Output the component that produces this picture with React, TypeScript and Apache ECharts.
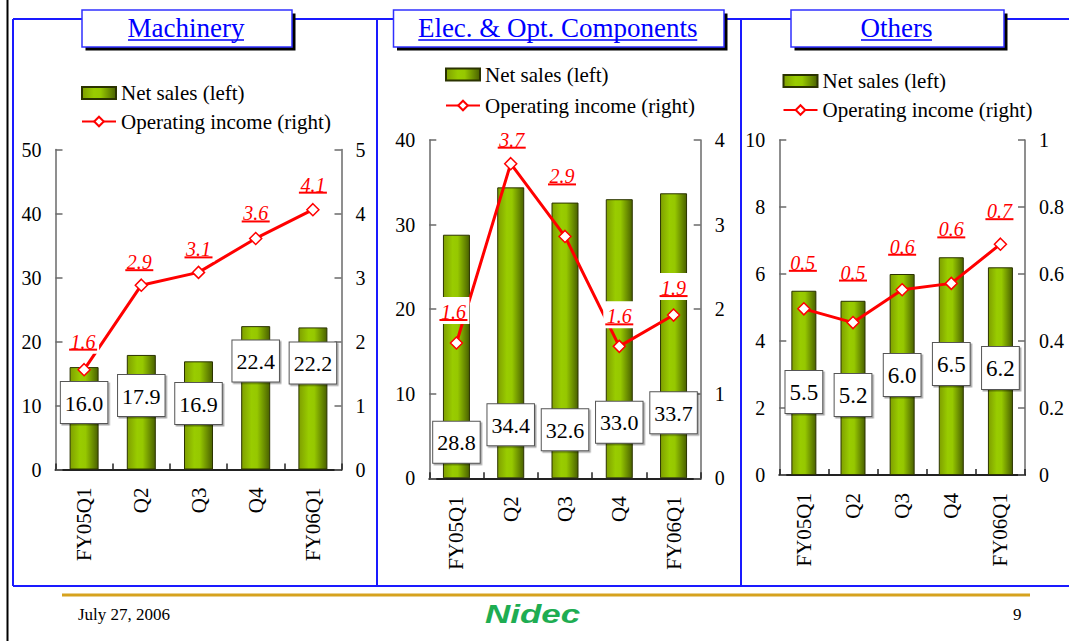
import React, { useEffect, useRef } from 'react';
import * as echarts from 'echarts';

// ---- data ----
const quarters = ['FY05Q1', 'Q2', 'Q3', 'Q4', 'FY06Q1'];
const machinerySales = [16.0, 17.9, 16.9, 22.4, 22.2];
const machineryIncome = [1.56, 2.88, 3.08, 3.61, 4.06];
const elecSales = [28.8, 34.4, 32.6, 33.0, 33.7];
const elecIncome = [1.6, 3.72, 2.86, 1.56, 1.93];
const othersSales = [5.5, 5.2, 6.0, 6.5, 6.2];
const othersIncome = [0.496, 0.455, 0.553, 0.572, 0.689];
const salesName = 'Net sales (left)';
const incomeName = 'Operating income (right)';
const footerDate = 'July 27, 2006';
const pageNumber = '9';

const SERIF = 'Liberation Serif';
const BLUE = '#1a1aff';

// ---- layout (positions / styles only) ----
const panels = [
  {
    title: 'Machinery', titleBox: [82, 10, 210, 37], titleHalf: 58,
    sales: machinerySales, income: machineryIncome,
    salesMax: 50, salesStep: 10, incomeMax: 5, incomeStep: 1,
    grid: { left: 55.5, top: 149.5, width: 286, height: 320 }, barWidth: 29,
    legend: { left: 81, top: 82.5, gap: 7.5 },
    labelLift: [28, 23, 23, 25, 25], labelDx: [-1, -2, 0, 0, 0],
    boxLift: [46.5, 53.5, 45.5, 88, 86], boxFont: 22,
  },
  {
    title: 'Elec. & Opt. Components', titleBox: [393.5, 10, 330.5, 37], titleHalf: 139.5,
    sales: elecSales, income: elecIncome,
    salesMax: 40, salesStep: 10, incomeMax: 4, incomeStep: 1,
    grid: { left: 429.3, top: 140, width: 271.4, height: 338.3 }, barWidth: 27,
    legend: { left: 445, top: 64, gap: 10 },
    labelLift: [31, 24, 60, 30, 27], labelDx: [-3, 1, -3, 0, 0],
    boxLift: [15.5, 33, 28, 35.5, 45], boxFont: 22,
  },
  {
    title: 'Others', titleBox: [791, 10, 213, 37], titleHalf: 35.5,
    sales: othersSales, income: othersIncome,
    salesMax: 10, salesStep: 2, incomeMax: 1, incomeStep: 0.2,
    grid: { left: 779.3, top: 140, width: 245.7, height: 335 }, barWidth: 25,
    legend: { left: 782.5, top: 70.5, gap: 8 },
    labelLift: [46, 50, 43, 54, 33], labelDx: [-1, 0, 0, 0, -1],
    boxLift: [62, 59, 79, 90, 86], boxFont: 23,
  },
];

const barGradient = () =>
  new echarts.graphic.LinearGradient(0, 0, 1, 0, [
    { offset: 0, color: '#7f9f00' },
    { offset: 0.35, color: '#99cc00' },
    { offset: 0.55, color: '#96c800' },
    { offset: 1, color: '#4a6100' },
  ]);

function buildOption() {
  const grids: any[] = [];
  const xAxes: any[] = [];
  const yAxes: any[] = [];
  const series: any[] = [];
  const legends: any[] = [];
  const graphics: any[] = [];

  // page frame
  graphics.push({ type: 'line', z: 0, shape: { x1: 7.5, y1: 0, x2: 7.5, y2: 641 }, style: { stroke: '#000', lineWidth: 2 } });
  graphics.push({ type: 'line', z: 0, shape: { x1: 13, y1: 19, x2: 1069, y2: 19 }, style: { stroke: BLUE, lineWidth: 2 } });
  graphics.push({ type: 'line', z: 0, shape: { x1: 13, y1: 586, x2: 1069, y2: 586 }, style: { stroke: BLUE, lineWidth: 2 } });
  [13, 377, 741].forEach((x) =>
    graphics.push({ type: 'line', z: 0, shape: { x1: x, y1: 19, x2: x, y2: 586 }, style: { stroke: BLUE, lineWidth: 2 } })
  );

  panels.forEach((p, i) => {
    grids.push({ ...p.grid, containLabel: false });
    xAxes.push({
      type: 'category', gridIndex: i, data: quarters,
      axisLine: { show: true, lineStyle: { color: '#222', width: 2 } },
      axisTick: { show: true, inside: true, length: 6, lineStyle: { color: '#222', width: 1.5 } },
      axisLabel: { rotate: 90, margin: 18, fontSize: 21, color: '#000', fontFamily: SERIF },
    });
    const yCommon = {
      type: 'value', gridIndex: i, min: 0,
      axisLine: { show: true, lineStyle: { color: '#6a6a6a', width: 1.5 } },
      axisTick: { show: true, inside: true, length: 7, lineStyle: { color: '#6a6a6a', width: 1.5 } },
      splitLine: { show: false },
    };
    yAxes.push({
      ...yCommon, position: 'left', max: p.salesMax, interval: p.salesStep,
      axisLabel: { margin: 14, fontSize: 20, color: '#000', fontFamily: SERIF },
    });
    yAxes.push({
      ...yCommon, position: 'right', max: p.incomeMax, interval: p.incomeStep,
      axisLabel: { margin: 14, fontSize: 20, color: '#000', fontFamily: SERIF },
    });

    series.push({
      type: 'bar', name: salesName, xAxisIndex: i, yAxisIndex: 2 * i, z: 2,
      barWidth: p.barWidth,
      itemStyle: { color: barGradient(), borderColor: '#2b3300', borderWidth: 1 },
      label: {
        show: true, position: 'insideBottom',
        formatter: (d: any) => Number(d.value).toFixed(1),
        fontSize: p.boxFont, fontFamily: SERIF, color: '#000',
        backgroundColor: '#fff', borderColor: '#555', borderWidth: 1,
        shadowColor: 'rgba(0,0,0,0.35)', shadowOffsetX: 1.5, shadowOffsetY: 1.5, shadowBlur: 0,
        padding: [10, 4, 9, 4],
      },
      data: p.sales.map((v, j) => ({ value: v, label: { distance: p.boxLift[j] } })),
    });

    series.push({
      type: 'line', name: incomeName, xAxisIndex: i, yAxisIndex: 2 * i + 1, z: 5,
      symbol: 'diamond', symbolSize: 12,
      lineStyle: { color: '#ff0000', width: 3 },
      itemStyle: { color: '#ffffff', borderColor: '#ff0000', borderWidth: 1.5 },
      label: {
        show: true, position: 'inside', align: 'center',
        formatter: (d: any) => `{t|${Number(d.value).toFixed(1)}}\n{u|}`,
        backgroundColor: '#fff', padding: [8, 2, 3, 2],
        rich: {
          t: { fontSize: 20, fontStyle: 'italic', color: '#ff0000', fontFamily: SERIF, lineHeight: 14, align: 'center' },
          u: { width: 28, height: 2, lineHeight: 2, backgroundColor: '#ff0000', align: 'center' },
        },
      },
      data: p.income.map((v, j) => ({ value: v, label: { offset: [p.labelDx[j], -p.labelLift[j] - 1.5] } })),
    });

    legends.push({
      orient: 'vertical', left: p.legend.left, top: p.legend.top, itemGap: p.legend.gap,
      padding: 0, itemWidth: 34, itemHeight: 12,
      textStyle: { fontSize: 21, fontFamily: SERIF, color: '#000' },
      data: [{ name: salesName, icon: 'rect' }, { name: incomeName }],
      selectedMode: false,
    });

    // title box
    const [bx, by, bw, bh] = p.titleBox;
    const cx = bx + bw / 2;
    graphics.push({ type: 'rect', z: 1, shape: { x: bx + 3.5, y: by + 3.5, width: bw, height: bh }, style: { fill: '#000' } });
    graphics.push({ type: 'rect', z: 1, shape: { x: bx, y: by, width: bw, height: bh }, style: { fill: '#fff', stroke: '#3030ff', lineWidth: 1.5 } });
    graphics.push({
      type: 'text', z: 2, x: cx - 1, y: 28,
      style: { text: p.title, fill: '#0000ff', fontSize: 27, fontFamily: SERIF, align: 'center', verticalAlign: 'middle' },
    });
    graphics.push({
      type: 'line', z: 2, shape: { x1: cx - 1 - p.titleHalf, y1: 40, x2: cx - 1 + p.titleHalf, y2: 40 },
      style: { stroke: '#0000ff', lineWidth: 1.5 },
    });
  });

  // footer
  graphics.push({ type: 'line', z: 0, shape: { x1: 62, y1: 595, x2: 1030, y2: 595 }, style: { stroke: '#d6a21e', lineWidth: 3 } });
  graphics.push({ type: 'text', z: 1, x: 78, y: 614, style: { text: footerDate, fill: '#000', fontSize: 17, fontFamily: SERIF, verticalAlign: 'middle' } });
  graphics.push({ type: 'text', z: 1, x: 1013, y: 614, style: { text: pageNumber, fill: '#000', fontSize: 17, fontFamily: SERIF, verticalAlign: 'middle' } });
  graphics.push({
    type: 'text', z: 1, x: 485, y: 614, scaleX: 1.4,
    style: { text: 'Nidec', fill: '#1ead52', fontSize: 25, fontWeight: 900, fontStyle: 'italic', fontFamily: 'Liberation Sans', verticalAlign: 'middle' },
  });

  return {
    animation: false,
    backgroundColor: '#ffffff',
    grid: grids,
    xAxis: xAxes,
    yAxis: yAxes,
    legend: legends,
    series,
    graphic: graphics,
  };
}

export default function App() {
  const ref = useRef<HTMLDivElement>(null);
  useEffect(() => {
    if (!ref.current) return;
    const chart = echarts.init(ref.current, undefined, { renderer: 'svg' });
    chart.setOption(buildOption() as any);
    return () => chart.dispose();
  }, []);
  return (
    <div
      ref={ref}
      style={{ position: 'fixed', left: 0, top: 0, width: 1069, height: 641, background: '#fff' }}
    />
  );
}
